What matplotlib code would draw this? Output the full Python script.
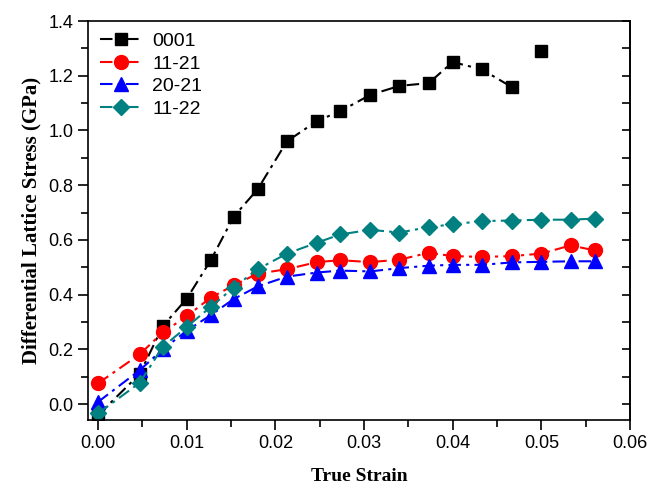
import numpy as np
import matplotlib.pyplot as plt
from matplotlib.ticker import MultipleLocator

# data
strain = [0.0, 0.0047, 0.0073, 0.0100, 0.0127, 0.0153, 0.0180, 0.0213, 0.0247,
          0.0273, 0.0307, 0.0340, 0.0373, 0.0400, 0.0433, 0.0467, 0.0500, 0.0533, 0.0560]

s0001 = [-0.04, 0.11, 0.285, 0.385, 0.525, 0.685, 0.785, 0.96, 1.035,
         1.07, 1.13, 1.163, 1.173, 1.25, 1.223, 1.158, 1.292]
s1121 = [0.076, 0.182, 0.262, 0.321, 0.389, 0.434, 0.477, 0.493, 0.519,
         0.526, 0.519, 0.528, 0.553, 0.541, 0.538, 0.541, 0.55, 0.58, 0.562]
s2021 = [0.008, 0.124, 0.200, 0.268, 0.325, 0.384, 0.430, 0.466, 0.481,
         0.488, 0.485, 0.497, 0.506, 0.509, 0.509, 0.518, 0.520, 0.522, 0.522]
s1122 = [-0.034, 0.078, 0.209, 0.282, 0.355, 0.426, 0.493, 0.55, 0.59,
         0.620, 0.637, 0.627, 0.647, 0.657, 0.669, 0.671, 0.674, 0.674, 0.678]

labels = ['0001', '11-21', '20-21', '11-22']
colors = ['black', '#ff0000', '#0000ff', '#008080']
markers = ['s', 'o', '^', 'D']
sizes = [9, 10, 10, 8.5]

fig = plt.figure(figsize=(6.51, 4.92), dpi=100)
ax = fig.add_axes([0.1352, 0.1463, 0.8325, 0.811])

series = [s0001, s1121, s2021, s1122]
for vals, lab, c, m, ms in zip(series, labels, colors, markers, sizes):
    n = len(vals)
    x = strain[:n]
    if lab == '0001':
        # last point is not joined by the line
        ax.plot(x[:-1], vals[:-1], color=c, ls='-.', lw=1.5, marker=m, ms=ms,
                label=lab, dashes=(6, 2.5, 1.5, 2.5))
        ax.plot(x[-1:], vals[-1:], color=c, ls='none', marker=m, ms=ms)
    else:
        ax.plot(x, vals, color=c, ls='-.', lw=1.5, marker=m, ms=ms,
                label=lab, dashes=(6, 2.5, 1.5, 2.5))

ax.set_xlim(-0.00113, 0.06)
ax.set_ylim(-0.058, 1.4)

ax.xaxis.set_major_locator(MultipleLocator(0.01))
ax.xaxis.set_minor_locator(MultipleLocator(0.005))
ax.yaxis.set_major_locator(MultipleLocator(0.2))
ax.yaxis.set_minor_locator(MultipleLocator(0.1))
ax.xaxis.set_major_formatter(plt.FuncFormatter(lambda v, p: f'{v:.2f}'))
ax.yaxis.set_major_formatter(plt.FuncFormatter(lambda v, p: f'{v:.1f}'))

ax.tick_params(which='both', direction='out', top=False, right=False,
               labelsize=13, width=1.2)
ax.tick_params(which='major', length=7)
ax.tick_params(which='minor', length=5)
for lab in ax.get_xticklabels() + ax.get_yticklabels():
    lab.set_fontfamily('Liberation Sans')

# inward ticks on the right side
ay = ax.secondary_yaxis('right')
ay.yaxis.set_major_locator(MultipleLocator(0.1))
ay.tick_params(direction='in', length=6, width=1.2, labelright=False)

for sp in ax.spines.values():
    sp.set_linewidth(1.2)
ay.spines['right'].set_linewidth(1.2)

ax.set_xlabel('True Strain', fontfamily='Liberation Serif', fontweight='bold',
              fontsize=14, labelpad=12)
ax.set_ylabel('Differential Lattice Stress (GPa)', fontfamily='Liberation Serif',
              fontweight='bold', fontsize=15, labelpad=5)

leg = ax.legend(loc='upper left', frameon=False, prop={'family': 'Liberation Sans', 'size': 14},
                handlelength=2.2, handletextpad=0.5, labelspacing=0.25,
                borderaxespad=0.2)

fig.savefig('out.png', dpi=100)
